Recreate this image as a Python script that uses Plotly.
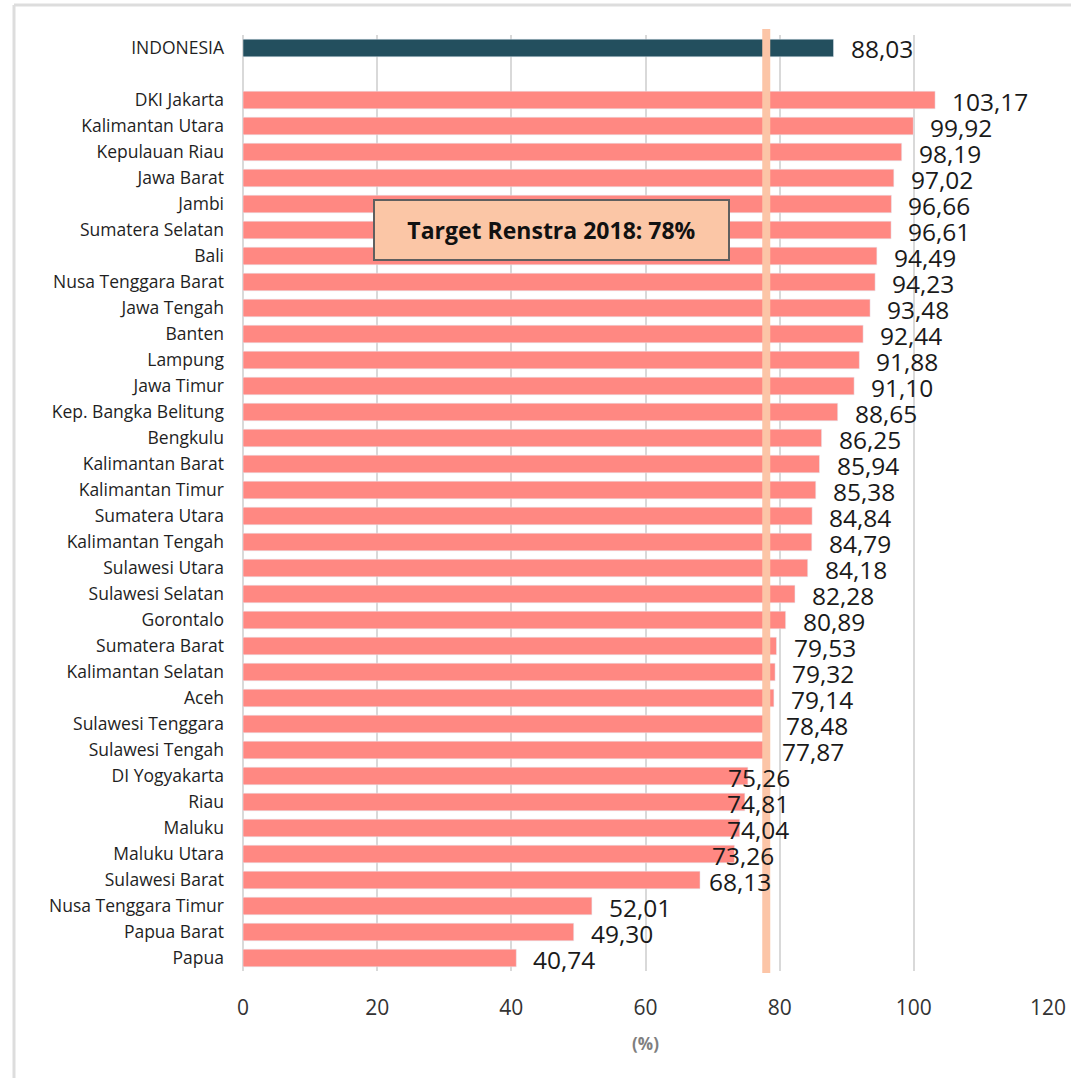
import plotly.graph_objects as go

national_label = "INDONESIA"
national_value = 88.03

provinces = [
    "DKI Jakarta", "Kalimantan Utara", "Kepulauan Riau", "Jawa Barat", "Jambi",
    "Sumatera Selatan", "Bali", "Nusa Tenggara Barat", "Jawa Tengah", "Banten",
    "Lampung", "Jawa Timur", "Kep. Bangka Belitung", "Bengkulu", "Kalimantan Barat",
    "Kalimantan Timur", "Sumatera Utara", "Kalimantan Tengah", "Sulawesi Utara",
    "Sulawesi Selatan", "Gorontalo", "Sumatera Barat", "Kalimantan Selatan", "Aceh",
    "Sulawesi Tenggara", "Sulawesi Tengah", "DI Yogyakarta", "Riau", "Maluku",
    "Maluku Utara", "Sulawesi Barat", "Nusa Tenggara Timur", "Papua Barat", "Papua",
]
values = [
    103.17, 99.92, 98.19, 97.02, 96.66,
    96.61, 94.49, 94.23, 93.48, 92.44,
    91.88, 91.10, 88.65, 86.25, 85.94,
    85.38, 84.84, 84.79, 84.18,
    82.28, 80.89, 79.53, 79.32, 79.14,
    78.48, 77.87, 75.26, 74.81, 74.04,
    73.26, 68.13, 52.01, 49.30, 40.74,
]
target = 78
target_text = "Target Renstra 2018: 78%"
x_ticks = [0, 20, 40, 60, 80, 100, 120]
x_title = "(%)"

def fmt(v):
    return f"{v:.2f}".replace(".", ",")

W, H = 1071, 1078
ML, MR, MT, MB = 243, 23, 35, 107
PW, PH = W - ML - MR, H - MT - MB

# positions: national at 0, blank row at 1, provinces from 2
prov_pos = [i + 2 for i in range(len(provinces))]

fig = go.Figure()
fig.add_trace(go.Bar(
    x=[national_value], y=[0], orientation="h", width=0.68,
    marker=dict(color="#234F5E"), showlegend=False,
))
fig.add_trace(go.Bar(
    x=values, y=prov_pos, orientation="h", width=0.68,
    marker=dict(color="#FF8882"), showlegend=False,
))

label_shift = {"DI Yogyakarta": -22, "Riau": -20, "Maluku": -15,
               "Maluku Utara": -24, "Sulawesi Barat": 7}
label_font = dict(family="Open Sans", size=24.5, color="#1a1a1a")
annotations = [dict(x=national_value, y=0, text=fmt(national_value), showarrow=False,
                    xanchor="left", xshift=15, font=label_font)]
for name, v, p in zip(provinces, values, prov_pos):
    annotations.append(dict(x=v, y=p, text=fmt(v), showarrow=False, xanchor="left",
                            xshift=label_shift.get(name, 15), yshift=-1, font=label_font))

annotations.append(dict(
    x=46, y=7, text=f"<b>{target_text}</b>", showarrow=False,
    font=dict(family="Open Sans", size=23, color="#111111"),
    bgcolor="#FBC6A6", bordercolor="#5f5f5f", borderwidth=2, borderpad=4,
    width=345, height=50, xanchor="center", yanchor="middle",
))

shapes = [
    dict(type="line", xref="x", yref="paper", x0=target, x1=target,
         y0=-2 / PH, y1=1 + 6 / PH, line=dict(color="#FCC5A7", width=8), layer="above"),
    # figure border (left and top)
    dict(type="line", xref="paper", yref="paper",
         x0=(14 - ML) / PW, x1=(14 - ML) / PW, y0=-(MB + 10) / PH, y1=1 + (MT - 5) / PH,
         line=dict(color="#DDDDDD", width=3)),
    dict(type="line", xref="paper", yref="paper",
         x0=(14 - ML) / PW, x1=(W + 10 - ML) / PW, y0=1 + (MT - 5) / PH, y1=1 + (MT - 5) / PH,
         line=dict(color="#DDDDDD", width=3)),
]

tickvals = [0] + prov_pos
ticktext = [national_label] + provinces

fig.update_layout(
    width=W, height=H,
    margin=dict(l=ML, r=MR, t=MT, b=MB, autoexpand=False),
    paper_bgcolor="white", plot_bgcolor="white",
    bargap=0.3,
    annotations=annotations, shapes=shapes,
    xaxis=dict(range=[0, 120], tickvals=x_ticks, showgrid=True, gridcolor="#D9D9D9",
               gridwidth=2, zeroline=True, zerolinecolor="#D9D9D9", zerolinewidth=2,
               showline=False, ticks="", ticklabelstandoff=22, automargin=False,
               ticklabeloverflow="allow",
               tickfont=dict(family="Open Sans", size=21, color="#333333"),
               title=dict(text=f"<b>{x_title}</b>", standoff=18,
                          font=dict(family="Open Sans", size=17, color="#7F7F7F"))),
    yaxis=dict(range=[len(provinces) + 1.5, -0.5], tickvals=tickvals, ticktext=ticktext,
               showgrid=False, zeroline=False, showline=False, ticks="",
               ticklabelstandoff=18, automargin=False,
               tickfont=dict(family="Open Sans", size=17.5, color="#1F1F1F")),
)

fig.write_html("out.html")
